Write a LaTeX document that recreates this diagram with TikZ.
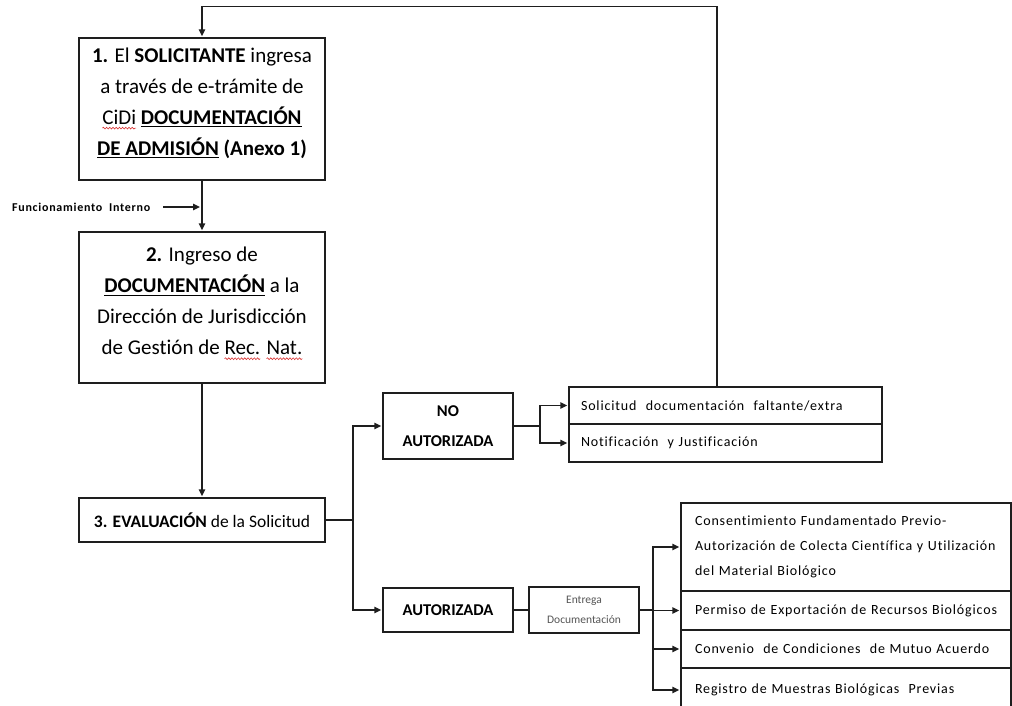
\documentclass[tikz,border=0pt]{standalone}
\usepackage{fontspec}
\setmainfont{Carlito}[Ligatures=NoCommon]
\newfontfamily\spc{Carlito}[LetterSpace=6,Ligatures=NoCommon]
\usetikzlibrary{arrows.meta,calc,decorations.pathmorphing}
\definecolor{wavered}{HTML}{D83030}
\definecolor{lncol}{HTML}{1E1E1E}
\definecolor{txtgray}{HTML}{555555}
\newlength\wvlen
\newcommand\ulb[1]{\settowidth\wvlen{#1}\rlap{\vrule width \wvlen height -2pt depth 3.3pt}#1}
\newcommand\wv[1]{\settowidth\wvlen{#1}\rlap{\tikz[overlay]\draw[wavered, line width=0.6pt, decorate, decoration={snake, amplitude=0.9pt, segment length=3.2pt}] (0pt,-4pt) -- (\wvlen,-4pt);}#1}
\newcommand\ml[1]{\mbox{#1}}
\begin{document}
\begin{tikzpicture}[x=1pt,y=-1pt,
  box/.style={draw=lncol, line width=1.4pt, inner sep=0pt, text=black},
  wire/.style={draw=lncol, line width=1.4pt},
  arr/.style={draw=lncol, line width=1.4pt, -{Triangle[length=7pt,width=6.5pt]}, shorten >=1pt},
  big/.style={font=\fontsize{21}{31}\selectfont, align=center, text=black, inner sep=0pt},
  small/.style={font=\fontsize{14}{25}\selectfont\spc, align=left, text width=#1, inner xsep=13pt},
  small/.default=300pt]
\useasboundingbox (0,0) rectangle (1012,706);

% main boxes
\node[box, minimum width=246pt, minimum height=142pt] (b1) at (202,109) {};
\node[big] (b1t) at (202,103) {\textbf{1.} El \textbf{SOLICITANTE} ingresa\\ a través de e-trámite de\\ \wv{CiDi} \ulb{\textbf{DOCUMENTACIÓN}}\\ \ulb{\textbf{DE ADMISIÓN}} \textbf{(Anexo 1)}};

\node[box, minimum width=246pt, minimum height=151pt] (b2) at (202,307.5) {};
\node[big] (b2t) at (202,301) {\textbf{2.} Ingreso de\\ \ulb{\textbf{DOCUMENTACIÓN}} a la\\ Dirección de Jurisdicción\\ de Gestión de \wv{Rec.} \wv{Nat.}};

\node[box, minimum width=246pt, minimum height=44pt, font=\fontsize{17.5}{21}\selectfont] (b3) at (202,520) {\textbf{3. EVALUACIÓN} de la Solicitud};

\node[box, minimum width=130pt, minimum height=66pt, font=\fontsize{16.5}{30}\selectfont\bfseries, align=center] (no) at (448,426) {NO\\AUTORIZADA};
\node[box, minimum width=130pt, minimum height=44pt, font=\fontsize{16.5}{20}\selectfont\bfseries] (aut) at (448,610) {AUTORIZADA};
\node[box, minimum width=110pt, minimum height=46pt, font=\fontsize{11.5}{20}\selectfont, text=txtgray, align=center] (ent) at (584,610) {Entrega\\Documentación};

% right boxes
\node[box, small=289pt, inner xsep=12pt, minimum width=313pt, minimum height=37pt] (sol1) at (725.5,405.5) {\ml{Solicitud\ \ documentación\ \ faltante/extra}};
\node[box, small=289pt, inner xsep=12pt, minimum width=313pt, minimum height=38pt] (sol2) at (725.5,443) {\ml{Notificación\ \ y\ Justificación}};

\node[box, small=302pt, inner xsep=14pt, minimum width=330pt, minimum height=88pt] (r1) at (846,547) {\ml{Consentimiento Fundamentado Previo-}\\\ml{Autorización de Colecta Científica y Utilización}\\\ml{del Material Biológico}};
\node[box, small=302pt, inner xsep=14pt, minimum width=330pt, minimum height=39pt] (r2) at (846,610.5) {\ml{Permiso de Exportación de Recursos Biológicos}};
\node[box, small=302pt, inner xsep=14pt, minimum width=330pt, minimum height=38pt] (r3) at (846,649) {\ml{Convenio\ \ de Condiciones\ \ de Mutuo Acuerdo}};
\node[box, small=302pt, inner xsep=14pt, minimum width=330pt, minimum height=44pt] (r4) at (846,690) {\ml{Registro de Muestras Biológicas\ \ Previas}};

% side label
\node[font=\fontsize{12}{14}\selectfont\bfseries\spc, anchor=west, inner sep=0pt] (fi) at (12,207) {Funcionamiento\ \ Interno};
\coordinate (fiend) at (201,207);
\draw[arr] ([xshift=13pt]fi.east) -- (fiend);

% connectors
\draw[arr] (b1.south) -- (b2.north);
\draw[arr] (b2.south) -- (b3.north);
\coordinate (br1) at (353,520);
\draw[wire] (b3.east) -- (br1);
\draw[arr] (br1) |- (no.west);
\draw[arr] (br1) |- (aut.west);
\coordinate (br2) at (540,426);
\draw[wire] (no.east) -- (br2);
\draw[arr] (br2) |- (sol1.west);
\draw[arr] (br2) |- (sol2.west);
\draw[wire] (aut.east) -- (ent.west);
\coordinate (br3) at (653,610);
\draw[wire] (ent.east) -- (br3);
\draw[arr] (br3) |- (r1.west);
\draw[arr] (br3) |- (r2.west);
\draw[arr] (br3) |- (r3.west);
\draw[arr] (br3) |- (r4.west);
\draw[arr] ([xshift=-8.5pt]sol1.north) |- ([yshift=31pt]b1.north) -- (b1.north);
\end{tikzpicture}
\end{document}
